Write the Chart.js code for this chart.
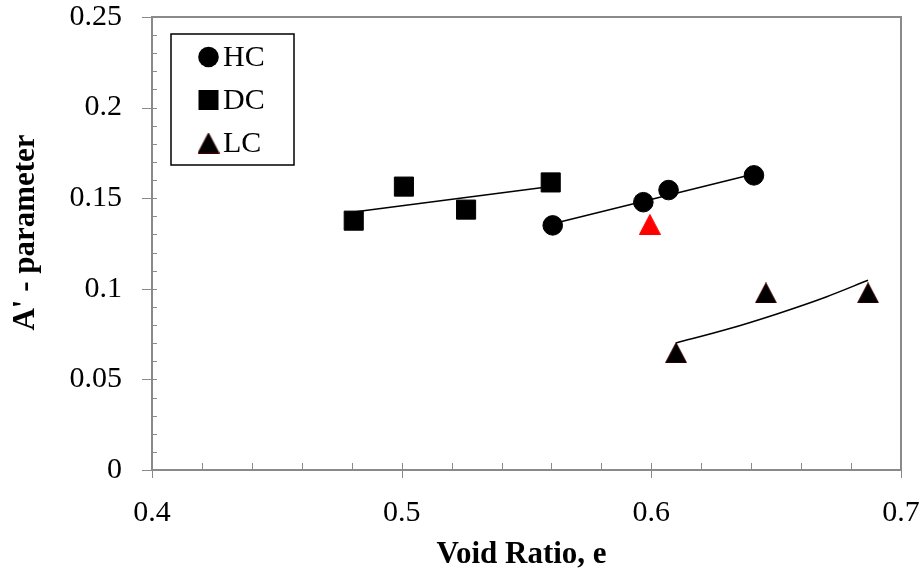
<!DOCTYPE html>
<html><head><meta charset="utf-8">
<script src="https://cdn.jsdelivr.net/npm/chart.js@4.4.0/dist/chart.umd.min.js"></script>
<style>html,body{margin:0;padding:0;background:#fff}#wrap{width:924px;height:571px}</style>
</head><body><div id="wrap"><canvas id="c" width="924" height="571"></canvas></div>
<script>
// ---- data ----
const hcX = [0.5605, 0.5968, 0.6069, 0.6411];
const hcY = [0.1350, 0.1478, 0.1545, 0.1626];
const dcX = [0.4808, 0.5009, 0.5258, 0.5597];
const dcY = [0.1376, 0.1564, 0.1437, 0.1587];
const lcX = [0.6099, 0.6459, 0.6868];
const lcY = [0.0647, 0.0977, 0.0977];
const redX = [0.5994];
const redY = [0.1355];
const hcTrendX = [0.5605, 0.6411];
const hcTrendY = [0.1359, 0.1633];
const dcTrendX = [0.4808, 0.5597];
const dcTrendY = [0.1424, 0.1565];
const lcTrendX = [0.6099, 0.630, 0.650, 0.670, 0.6868];
const lcTrendY = [0.0701, 0.0775, 0.0860, 0.0955, 0.1047];
const legendLabels = ['HC', 'DC', 'LC'];
const xTickLabels = ['0.4', '0.5', '0.6', '0.7'];
const yTickLabels = ['0', '0.05', '0.1', '0.15', '0.2', '0.25'];
const xTitle = 'Void Ratio, e';
const yTitle = "A' - parameter";

const AXIS = '#8a8a8a';
const FONT = "'Liberation Serif', 'Times New Roman', serif";

function pts(xs, ys) { return xs.map((v, i) => ({ x: v, y: ys[i] })); }

function triCanvas(fill, stroke) {
  const c = document.createElement('canvas');
  c.width = 22; c.height = 21;
  const g = c.getContext('2d');
  g.beginPath();
  g.moveTo(11, 0.5); g.lineTo(21.5, 20.5); g.lineTo(0.5, 20.5); g.closePath();
  g.fillStyle = fill; g.fill();
  g.strokeStyle = stroke; g.lineWidth = 1; g.stroke();
  return c;
}
const triBlack = triCanvas('#000000', '#3a0000');
const triRed = triCanvas('#ff0000', '#ff0000');

function noPad(s) { s.paddingTop = 0; s.paddingBottom = 0; s.paddingLeft = 0; s.paddingRight = 0; }

const tickPlugin = {
  id: 'axisTicks',
  beforeDatasetsDraw(chart) {
    const { ctx, chartArea: a, scales: { x, y } } = chart;
    ctx.save();
    ctx.strokeStyle = AXIS;
    ctx.lineWidth = 1;
    ctx.beginPath();
    for (let k = 0; k <= 25; k++) {
      const py = Math.round(y.getPixelForValue(k / 100)) + 0.5;
      if (k % 5 === 0) { ctx.moveTo(a.left - 10, py); ctx.lineTo(a.left + 5, py); }
      else { ctx.moveTo(a.left, py); ctx.lineTo(a.left + 5, py); }
    }
    for (let k = 0; k <= 15; k++) {
      const px = Math.round(x.getPixelForValue(0.4 + k * 0.02)) + 0.5;
      if (k % 5 === 0) { ctx.moveTo(px, a.bottom - 7); ctx.lineTo(px, a.bottom + 8); }
      else { ctx.moveTo(px, a.bottom - 7); ctx.lineTo(px, a.bottom); }
    }
    ctx.stroke();
    ctx.lineWidth = 2;
    ctx.strokeRect(a.left, a.top, a.right - a.left, a.bottom - a.top);
    ctx.restore();
  },
  afterDraw(chart) {
    const { ctx, chartArea: a } = chart;
    ctx.save();
    // axis titles
    ctx.fillStyle = '#000';
    ctx.font = 'bold 31px ' + FONT;
    ctx.textAlign = 'center';
    ctx.textBaseline = 'alphabetic';
    ctx.fillText(xTitle, (a.left + a.right) / 2 - 5, a.bottom + 93);
    ctx.save();
    ctx.translate(34, (a.top + a.bottom) / 2 - 11);
    ctx.rotate(-Math.PI / 2);
    ctx.fillText(yTitle, 0, 0);
    ctx.restore();
    // legend
    const bx = a.left + 19, by = a.top + 17, bw = 123, bh = 131;
    ctx.strokeStyle = '#000'; ctx.lineWidth = 1.5;
    ctx.fillStyle = '#fff';
    ctx.fillRect(bx, by, bw, bh);
    ctx.strokeRect(bx, by, bw, bh);
    const mx = bx + 37.5;
    const rows = [by + 23, by + 66, by + 109];
    ctx.fillStyle = '#000';
    ctx.beginPath(); ctx.arc(mx, rows[0], 10.3, 0, Math.PI * 2); ctx.fill();
    ctx.fillRect(mx - 10, rows[1] - 10, 20, 20);
    ctx.drawImage(triBlack, mx - 11, rows[2] - 10.5);
    ctx.font = '30px ' + FONT;
    ctx.textBaseline = 'middle';
    ctx.textAlign = 'left';
    legendLabels.forEach((t, i) => ctx.fillText(t, bx + 52, rows[i] + 1));
    ctx.restore();
  }
};

new Chart(document.getElementById('c'), {
  type: 'scatter',
  data: {
    datasets: [
      { label: legendLabels[0], data: pts(hcX, hcY), pointStyle: 'circle', pointRadius: 9.8, backgroundColor: '#000', borderColor: '#000', borderWidth: 1, order: 0 },
      { label: legendLabels[1], data: pts(dcX, dcY), pointStyle: 'rect', pointRadius: 13.5, backgroundColor: '#000', borderColor: '#000', borderWidth: 1, order: 0 },
      { label: legendLabels[2], data: pts(lcX, lcY), pointStyle: triBlack, pointRadius: 11, order: 0 },
      { label: 'red', data: pts(redX, redY), pointStyle: triRed, pointRadius: 11, order: 0 },
      { label: 'hcTrend', data: pts(hcTrendX, hcTrendY), showLine: true, pointRadius: 0, borderColor: '#000', borderWidth: 1.5, order: 1 },
      { label: 'dcTrend', data: pts(dcTrendX, dcTrendY), showLine: true, pointRadius: 0, borderColor: '#000', borderWidth: 1.5, order: 1 },
      { label: 'lcTrend', data: pts(lcTrendX, lcTrendY), showLine: true, pointRadius: 0, borderColor: '#000', borderWidth: 1.5, cubicInterpolationMode: 'monotone', order: 1 }
    ]
  },
  options: {
    responsive: false,
    animation: false,
    layout: { padding: { top: 17, right: 23, left: 0, bottom: 0 } },
    plugins: { legend: { display: false }, tooltip: { enabled: false } },
    scales: {
      x: {
        type: 'linear', min: 0.4, max: 0.7,
        afterFit(s) { s.height = 101; noPad(s); },
        afterBuildTicks(s) { s.ticks = xTickLabels.map(v => ({ value: parseFloat(v) })); },
        grid: { display: false, drawTicks: false },
        border: { display: false },
        ticks: { padding: 25, color: '#000', font: { family: FONT, size: 30 }, maxRotation: 0, callback: (v, i) => xTickLabels[i] },
        title: { display: false }
      },
      y: {
        type: 'linear', min: 0, max: 0.25,
        afterFit(s) { s.width = 152; noPad(s); },
        afterBuildTicks(s) { s.ticks = yTickLabels.map(v => ({ value: parseFloat(v) })); },
        grid: { display: false, drawTicks: false },
        border: { display: false },
        ticks: { padding: 30, color: '#000', font: { family: FONT, size: 30 }, callback: (v, i) => yTickLabels[i] },
        title: { display: false }
      }
    }
  },
  plugins: [tickPlugin]
});
</script>
</body></html>
